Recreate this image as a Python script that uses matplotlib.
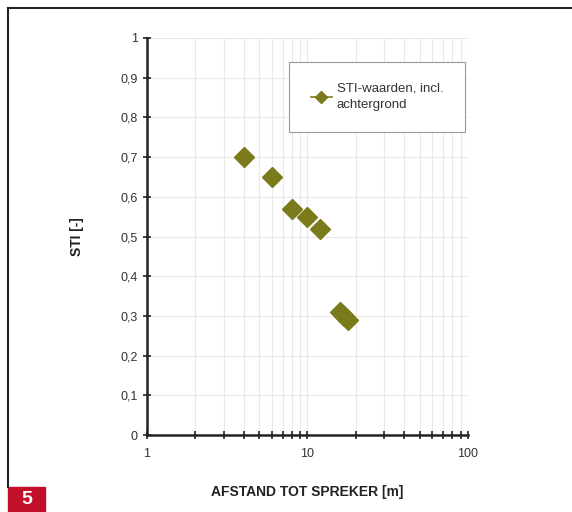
import numpy as np
import matplotlib.pyplot as plt
from matplotlib.ticker import FuncFormatter, LogLocator, MultipleLocator
from matplotlib.patches import Rectangle
from matplotlib.lines import Line2D

plt.rcParams["font.family"] = ["Liberation Sans", "DejaVu Sans"]

afstand = [4, 6, 8, 10, 12, 16, 17, 18]
sti = [0.70, 0.65, 0.57, 0.55, 0.52, 0.31, 0.30, 0.29]
reeks = "STI-waarden, incl.\nachtergrond"
olijf = "#7b7b1c"

fig = plt.figure(figsize=(5.72, 5.12), dpi=100)
ax = fig.add_axes([0.257, 0.150, 0.561, 0.776])

ax.plot(afstand, sti, "D", color=olijf, markersize=10.5, linestyle="none", label=reeks)

ax.set_xscale("log")
ax.set_xlim(1, 100)
ax.set_ylim(0, 1)
ax.xaxis.set_major_locator(LogLocator(base=10))
ax.xaxis.set_minor_locator(LogLocator(base=10, subs=np.arange(2, 10)))
ax.xaxis.set_major_formatter(FuncFormatter(lambda v, p: f"{v:g}"))
ax.xaxis.set_minor_formatter(FuncFormatter(lambda v, p: ""))
ax.yaxis.set_major_locator(MultipleLocator(0.1))
ax.yaxis.set_major_formatter(FuncFormatter(lambda v, p: f"{v:.1f}".replace(".", ",") if v not in (0, 1) else f"{v:.0f}"))

ax.grid(True, which="major", color="#e8e8e8", linewidth=0.8)
ax.grid(True, which="minor", axis="x", color="#e8e8e8", linewidth=0.8)
ax.set_axisbelow(True)

for s in ["top", "right"]:
    ax.spines[s].set_visible(False)
for s in ["left", "bottom"]:
    ax.spines[s].set_linewidth(1.8)
    ax.spines[s].set_color("#222222")

ax.tick_params(axis="both", which="both", direction="inout", color="#222222", width=1.2)
ax.tick_params(axis="both", which="major", length=6, labelsize=9, labelcolor="#333333")
ax.tick_params(axis="x", which="minor", length=6)
ax.tick_params(axis="x", which="major", pad=6)

ax.set_ylabel("STI [-]", fontsize=10, fontweight="bold", color="#222222", labelpad=26)
ax.set_xlabel("AFSTAND TOT SPREKER [m]", fontsize=10, fontweight="bold", color="#222222", labelpad=18)

handle = Line2D([0], [0], color=olijf, marker="D", markersize=6, linewidth=1.2)
leg = ax.legend([handle], [reeks], loc="upper right", bbox_to_anchor=(0.99, 0.94),
                fontsize=9.5, fancybox=False, edgecolor="#999999", framealpha=1,
                handlelength=1.6, handletextpad=0.4, borderpad=1.6, borderaxespad=0,
                labelcolor="#333333")
leg.get_frame().set_linewidth(0.8)
leg.get_texts()[0].set_linespacing(1.45)

# kader en nummer
fig.add_artist(Line2D([8 / 572, 8 / 572], [1 - 8 / 512, 25 / 512], transform=fig.transFigure, color="#222222", linewidth=1.5))
fig.add_artist(Line2D([8 / 572, 1], [1 - 8 / 512, 1 - 8 / 512], transform=fig.transFigure, color="#222222", linewidth=1.5))
fig.add_artist(Rectangle((8 / 572, 0), 37 / 572, 25 / 512, transform=fig.transFigure, color="#c0102a"))
fig.text(26.5 / 572, 12 / 512, "5", color="white", fontsize=14, fontweight="bold", ha="center", va="center")

fig.savefig("out.png", dpi=100)
